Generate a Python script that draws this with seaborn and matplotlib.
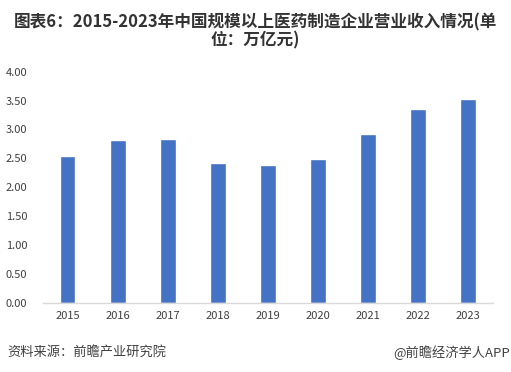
import matplotlib
matplotlib.use("Agg")
import matplotlib.pyplot as plt
import seaborn as sns
import pandas as pd

years = ["2015", "2016", "2017", "2018", "2019", "2020", "2021", "2022", "2023"]
revenue = [2.54, 2.81, 2.84, 2.42, 2.39, 2.48, 2.92, 3.36, 3.53]
yticks = [0.0, 0.5, 1.0, 1.5, 2.0, 2.5, 3.0, 3.5, 4.0]

title = "图表6：2015-2023年中国规模以上医药制造企业营业收入情况(单\n位：万亿元)"
source = "资料来源：前瞻产业研究院"
credit = "@前瞻经济学人APP"

df = pd.DataFrame({"year": years, "revenue": revenue})

sns.set_style("white")
plt.rcParams['font.family'] = ['Noto Sans CJK SC', 'DejaVu Sans']

fig = plt.figure(figsize=(5.11, 3.72), dpi=100)
ax = fig.add_axes([0.0836, 0.1868, 0.8812, 0.6205])

sns.barplot(data=df, x="year", y="revenue", color="#4472C4", width=0.31,
            saturation=1, ax=ax)

ax.set_ylim(0, 4)
ax.set_xlim(-0.5, len(years) - 0.5)
ax.set_yticks(yticks)
ax.set_yticklabels([f"{t:.2f}" for t in yticks])
ax.set_xlabel("")
ax.set_ylabel("")
ax.tick_params(axis="both", length=0, labelsize=8, colors="#404040")
ax.tick_params(axis="y", pad=11)
ax.tick_params(axis="x", pad=6)
for s in ["top", "right", "left"]:
    ax.spines[s].set_visible(False)
ax.spines["bottom"].set_color("#d9d9d9")
ax.spines["bottom"].set_linewidth(1)

fig.text(0.5, 0.965, title, ha="center", va="top", fontsize=12,
         fontweight="bold", color="#333333", linespacing=1.05)
fig.text(0.014, 0.052, source, ha="left", va="center", fontsize=9.5,
         color="#404040")
fig.text(0.998, 0.052, credit, ha="right", va="center", fontsize=9.5,
         color="#404040")

fig.savefig("out.png", dpi=100)
